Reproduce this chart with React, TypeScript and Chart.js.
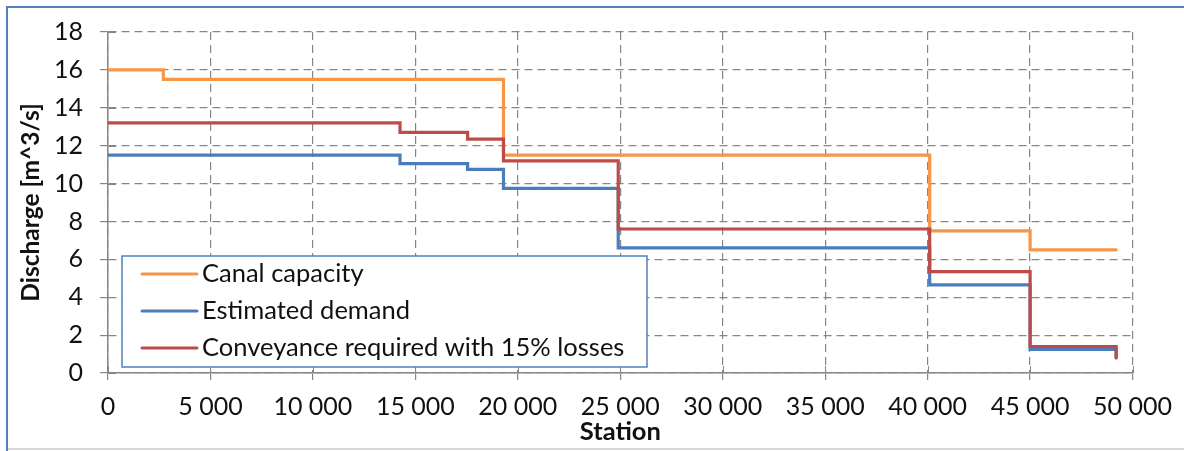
import React, { useEffect, useRef } from 'react';
import { Chart, registerables } from 'chart.js';

Chart.register(...registerables);

// Series names and colours
const seriesNames = ['Canal capacity', 'Estimated demand', 'Conveyance required with 15% losses'];
const seriesColors = ['#F79646', '#4A7EBB', '#BE4B48'];

// Canal capacity: station where each reach starts (last entry = end of canal) and its discharge
const capacityStations = [0, 2700, 19300, 40100, 45000, 49200];
const capacityValues = [16, 15.5, 11.5, 7.5, 6.5];

// Estimated demand per reach
const demandStations = [0, 14250, 17550, 19300, 24900, 40100, 45000, 49200];
const demandValues = [11.5, 11.05, 10.75, 9.75, 6.6, 4.65, 1.25];
const demandEndValue = 0.8;

// Conveyance required with 15% losses per reach
const conveyanceStations = [0, 14250, 17550, 19300, 24900, 40100, 45000, 49200];
const conveyanceValues = [13.2, 12.7, 12.35, 11.2, 7.6, 5.35, 1.4];
const conveyanceEndValue = 0.8;

// Axis ranges
const stationMax = 50000;
const stationStep = 5000;
const dischargeMax = 18;
const dischargeStep = 2;

type Pt = { x: number; y: number };

// Turn reach boundaries + values into a stepped polyline
function stepPoints(stations: number[], values: number[], endValue?: number): Pt[] {
  const pts: Pt[] = [];
  values.forEach((v, i) => {
    pts.push({ x: stations[i], y: v });
    pts.push({ x: stations[i + 1], y: v });
  });
  if (endValue !== undefined) pts.push({ x: stations[stations.length - 1], y: endValue });
  return pts;
}

const formatThousands = (v: number) => String(v).replace(/\B(?=(\d{3})+(?!\d))/g, ' ');

const GRID = '#868686';
const FONT = 'Lato';
const TEXT = '#111111';

// White background plus the blue frame on the top and left edges
const framePlugin = {
  id: 'frame',
  beforeDraw(chart: any) {
    const { ctx, width, height } = chart;
    ctx.save();
    ctx.fillStyle = '#ffffff';
    ctx.fillRect(0, 0, width, height);
    ctx.strokeStyle = '#D9D9D9';
    ctx.lineWidth = 2;
    ctx.beginPath();
    ctx.moveTo(7, height - 2);
    ctx.lineTo(width, height - 2);
    ctx.stroke();
    ctx.strokeStyle = '#4F81BD';
    ctx.lineWidth = 2;
    ctx.beginPath();
    ctx.moveTo(7, height);
    ctx.lineTo(7, 7);
    ctx.lineTo(width, 7);
    ctx.stroke();
    ctx.restore();
  },
};

// Short solid tick marks on the inner side of both axes (cross-style ticks)
const innerTicksPlugin = {
  id: 'innerTicks',
  beforeDatasetsDraw(chart: any) {
    const { ctx, chartArea, scales } = chart;
    ctx.save();
    ctx.strokeStyle = GRID;
    ctx.lineWidth = 1;
    ctx.beginPath();
    scales.x.ticks.forEach((t: any) => {
      const x = Math.round(scales.x.getPixelForValue(t.value)) + 0.5;
      ctx.moveTo(x, chartArea.bottom);
      ctx.lineTo(x, chartArea.bottom - 7);
    });
    scales.y.ticks.forEach((t: any) => {
      const y = Math.round(scales.y.getPixelForValue(t.value)) + 0.5;
      ctx.moveTo(chartArea.left, y);
      ctx.lineTo(chartArea.left + 8, y);
    });
    ctx.stroke();
    ctx.restore();
  },
};

// Boxed legend inside the lower-left of the plot area
const legendBoxPlugin = {
  id: 'legendBox',
  afterDatasetsDraw(chart: any) {
    const { ctx, chartArea } = chart;
    const left = chartArea.left + 14;
    const top = chartArea.bottom - 117;
    const w = 525;
    const h = 111;
    ctx.save();
    ctx.fillStyle = '#ffffff';
    ctx.fillRect(left, top, w, h);
    ctx.strokeStyle = '#4F81BD';
    ctx.lineWidth = 1.5;
    ctx.strokeRect(left, top, w, h);
    chart.data.datasets.forEach((ds: any, i: number) => {
      const y = top + 18 + i * 37;
      ctx.strokeStyle = ds.borderColor;
      ctx.lineWidth = 3;
      ctx.lineCap = 'round';
      ctx.beginPath();
      ctx.moveTo(left + 20, y);
      ctx.lineTo(left + 75, y);
      ctx.stroke();
      ctx.fillStyle = TEXT;
      ctx.font = `25.5px ${FONT}`;
      ctx.textAlign = 'left';
      ctx.textBaseline = 'middle';
      ctx.fillText(ds.label, left + 80, y);
    });
    ctx.restore();
  },
};

export default function App() {
  const canvasRef = useRef<HTMLCanvasElement | null>(null);

  useEffect(() => {
    if (!canvasRef.current) return;
    const series = [
      stepPoints(capacityStations, capacityValues),
      stepPoints(demandStations, demandValues, demandEndValue),
      stepPoints(conveyanceStations, conveyanceValues, conveyanceEndValue),
    ];
    const chart = new Chart(canvasRef.current, {
      type: 'line',
      data: {
        datasets: series.map((data, i) => ({
          label: seriesNames[i],
          data,
          borderColor: seriesColors[i],
          backgroundColor: seriesColors[i],
          borderWidth: 3.2,
          borderCapStyle: 'round' as const,
          borderJoinStyle: 'miter' as const,
          pointRadius: 0,
          pointHoverRadius: 0,
          fill: false,
          tension: 0,
          order: seriesNames.length - i,
        })),
      },
      options: {
        animation: false,
        responsive: false,
        devicePixelRatio: 1,
        parsing: false as any,
        layout: { padding: { left: 0, top: 29, right: 51, bottom: 0 } },
        plugins: {
          legend: { display: false },
          tooltip: { enabled: false },
        },
        scales: {
          x: {
            type: 'linear',
            min: 0,
            max: stationMax,
            afterFit: (scale: any) => {
              scale.height = 78;
            },
            ticks: {
              stepSize: stationStep,
              autoSkip: false,
              maxRotation: 0,
              padding: 12,
              color: TEXT,
              font: { family: FONT, size: 25 },
              callback: (v: any) => formatThousands(Number(v)),
            },
            grid: { color: GRID, lineWidth: 1.2, tickLength: 7, tickColor: GRID },
            border: { display: true, color: GRID, width: 1.5, dash: [8, 5] },
            title: {
              display: true,
              text: 'Station',
              color: TEXT,
              font: { family: FONT, size: 25.5, weight: 'bold' },
              padding: { top: 0, bottom: 4 },
            },
          },
          y: {
            type: 'linear',
            min: 0,
            max: dischargeMax,
            afterFit: (scale: any) => {
              scale.width = 108;
            },
            ticks: {
              stepSize: dischargeStep,
              padding: 17,
              color: TEXT,
              font: { family: FONT, size: 25 },
            },
            grid: { color: GRID, lineWidth: 1.2, tickLength: 8, tickColor: GRID },
            border: { display: true, color: GRID, width: 1.5, dash: [8, 5] },
            title: {
              display: true,
              text: 'Discharge [m^3/s]',
              color: TEXT,
              font: { family: FONT, size: 24.5, weight: 'bold' },
              padding: { top: 16, bottom: 0 },
            },
          },
        },
      },
      plugins: [framePlugin, innerTicksPlugin, legendBoxPlugin],
    });
    return () => chart.destroy();
  }, []);

  return (
    <div style={{ position: 'absolute', left: 0, top: 0, width: 1184, height: 451 }}>
      <canvas ref={canvasRef} width={1184} height={451} style={{ display: 'block' }} />
    </div>
  );
}
